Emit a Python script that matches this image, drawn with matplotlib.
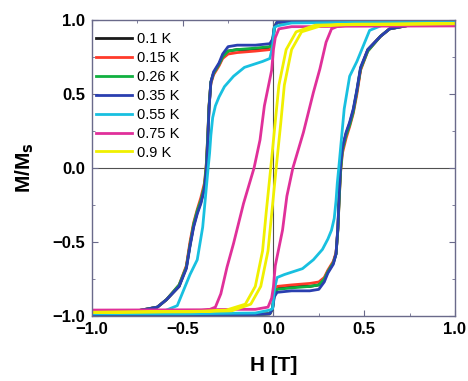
import numpy as np
import matplotlib.pyplot as plt
from matplotlib.ticker import MultipleLocator

plt.rcParams['font.family'] = ['Liberation Sans', 'DejaVu Sans']

# descending branch (field swept from +1 T to -1 T); ascending branch is its mirror image
h_step = [1.0, 0.5, 0.1, 0.02, 0.005, -0.005, -0.02, -0.1, -0.2, -0.25,
          -0.28, -0.3, -0.33, -0.345, -0.355, -0.362, -0.37, -0.38, -0.40, -0.42,
          -0.44, -0.46, -0.48, -0.52, -0.59, -0.64, -0.75, -1.0]
m_01 = [0.99, 0.99, 0.99, 0.985, 0.95, 0.84, 0.81, 0.80, 0.80, 0.79,
        0.75, 0.70, 0.64, 0.58, 0.41, 0.20, 0.0, -0.13, -0.23, -0.30,
        -0.39, -0.52, -0.67, -0.80, -0.89, -0.94, -0.965, -0.975]
m_015 = [0.99, 0.99, 0.99, 0.985, 0.95, 0.83, 0.80, 0.79, 0.78, 0.77,
         0.74, 0.69, 0.63, 0.57, 0.42, 0.22, 0.03, -0.10, -0.20, -0.28,
         -0.37, -0.50, -0.66, -0.79, -0.89, -0.94, -0.965, -0.975]
m_026 = [0.99, 0.99, 0.99, 0.985, 0.95, 0.85, 0.82, 0.81, 0.80, 0.79,
         0.75, 0.70, 0.64, 0.58, 0.42, 0.22, 0.02, -0.12, -0.22, -0.29,
         -0.38, -0.52, -0.67, -0.79, -0.89, -0.94, -0.965, -0.975]
m_035 = [0.99, 0.99, 0.99, 0.985, 0.95, 0.87, 0.84, 0.83, 0.83, 0.82,
         0.77, 0.71, 0.65, 0.58, 0.40, 0.18, -0.02, -0.14, -0.24, -0.31,
         -0.40, -0.53, -0.68, -0.80, -0.89, -0.94, -0.965, -0.975]

h_055 = [1.0, 0.5, 0.1, 0.04, 0.02, 0.005, -0.005, -0.02, -0.06, -0.11,
         -0.16, -0.22, -0.27, -0.30, -0.32, -0.335, -0.345, -0.352, -0.36, -0.375,
         -0.39, -0.42, -0.46, -0.5, -0.53, -0.6, -1.0]
m_055 = [0.985, 0.985, 0.98, 0.965, 0.96, 0.95, 0.82, 0.74, 0.72, 0.70,
         0.68, 0.62, 0.55, 0.48, 0.42, 0.34, 0.22, 0.10, 0.0, -0.20,
         -0.40, -0.62, -0.72, -0.84, -0.93, -0.965, -0.975]

h_075 = [1.0, 0.4, 0.2, 0.1, 0.03, 0.01, 0.0, -0.01, -0.03, -0.05,
         -0.074, -0.107, -0.165, -0.22, -0.256, -0.29, -0.32, -0.36, -0.45, -1.0]
m_075 = [0.96, 0.958, 0.955, 0.955, 0.94, 0.88, 0.80, 0.66, 0.54, 0.42,
         0.19, 0.0, -0.24, -0.51, -0.67, -0.85, -0.94, -0.96, -0.965, -0.97]

h_09 = [1.0, 0.45, 0.23, 0.125, 0.07, 0.03, 0.005, -0.015, -0.04, -0.06,
        -0.1, -0.155, -0.26, -0.4, -1.0]
m_09 = [0.975, 0.972, 0.965, 0.92, 0.80, 0.56, 0.25, 0.0, -0.3, -0.56,
        -0.80, -0.92, -0.96, -0.968, -0.975]

labels = ['0.1 K', '0.15 K', '0.26 K', '0.35 K', '0.55 K', '0.75 K', '0.9 K']
fields = [h_step, h_step, h_step, h_step, h_055, h_075, h_09]
moments = [m_01, m_015, m_026, m_035, m_055, m_075, m_09]
colors = ['#1a1a1a', '#ff3a2a', '#10b040', '#2a3fb0', '#18c0e0', '#e0309a', '#f0f000']

fig = plt.figure(figsize=(4.68, 3.81), dpi=100)
ax = fig.add_axes([0.1966, 0.1706, 0.7754, 0.7769])

ax.axhline(0, color='#505050', lw=0.8, zorder=1)
ax.axvline(0, color='#505050', lw=0.8, zorder=1)

for h, m, c, lab in zip(fields, moments, colors, labels):
    h = np.array(h)
    m = np.array(m)
    # down sweep, then the mirrored up sweep from -1 T back to +1 T
    hh = np.concatenate([h, -h])
    mm = np.concatenate([m, -m])
    ax.plot(hh, mm, color=c, lw=2.0, label=lab, zorder=2)

ax.set_xlim(-1, 1)
ax.set_ylim(-1, 1)
ax.xaxis.set_major_locator(MultipleLocator(0.5))
ax.xaxis.set_minor_locator(MultipleLocator(0.25))
ax.yaxis.set_major_locator(MultipleLocator(0.5))
ax.yaxis.set_minor_locator(MultipleLocator(0.25))
ax.tick_params(which='both', direction='in', top=True, right=True,
               color='#6a6a8a', labelsize=12)
ax.tick_params(axis='x', pad=4)
ax.tick_params(axis='y', pad=5)
ax.tick_params(which='major', length=4)
ax.tick_params(which='minor', length=2.5)
for lbl in ax.get_xticklabels() + ax.get_yticklabels():
    lbl.set_fontweight('bold')
for s in ax.spines.values():
    s.set_color('#6a6a8a')
    s.set_linewidth(1.0)

ax.set_xlabel('H [T]', fontsize=15, fontweight='bold', labelpad=14)
ax.set_ylabel('M/M$_\\mathbf{s}$', fontsize=15, fontweight='bold', labelpad=12)

ax.legend(loc='upper left', bbox_to_anchor=(0.01, 0.96), frameon=False,
          fontsize=10.5, handlelength=2.5, handletextpad=0.35,
          labelspacing=0.34, borderpad=0, borderaxespad=0)

fig.savefig('out.png', dpi=100)
